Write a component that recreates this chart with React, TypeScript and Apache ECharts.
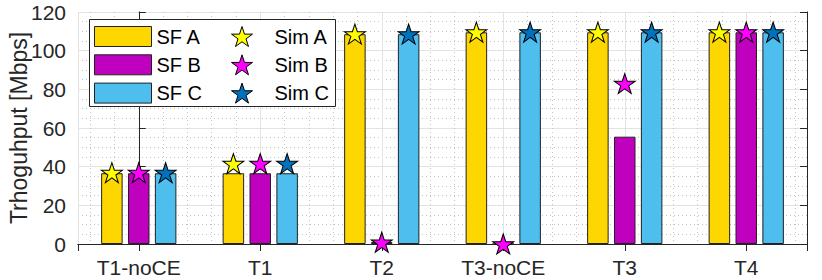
import React, { useEffect, useRef } from "react";
import * as echarts from "echarts";

const categories = ["T1-noCE", "T1", "T2", "T3-noCE", "T3", "T4"];
const sfA = [36.6, 36.6, 108.5, 109.5, 109.5, 109.5];
const sfB = [36.6, 36.6, 1.0, 0, 55.5, 109.5];
const sfC = [36.6, 36.6, 108.5, 109.5, 109.5, 109.5];
const simA = [36.9, 41.6, 108.6, 109.6, 109.6, 109.6];
const simB = [36.9, 41.6, 0.9, 0, 83.0, 109.6];
const simC = [36.9, 41.6, 108.6, 109.6, 109.6, 109.6];
const yTicks = [0, 20, 40, 60, 80, 100, 120];

const STAR =
  "path://M50 0 L61.23 34.55 L97.55 34.55 L68.17 55.9 L79.39 90.45 L50 69.1 L20.61 90.45 L31.83 55.9 L2.45 34.55 L38.77 34.55 Z";

const FONT = "Liberation Sans";
const TXT = "#262626";
const BAR_W = 21.5;
const BAR_GAP = 0.25;
const OFF = BAR_W * (1 + BAR_GAP);

export default function App() {
  const ref = useRef<HTMLDivElement>(null);
  useEffect(() => {
    if (!ref.current) return;
    const chart = echarts.init(ref.current, undefined, { renderer: "svg" });
    const barSeries = (name: string, data: number[], color: string) => ({
      name,
      type: "bar",
      data,
      xAxisIndex: 0,
      yAxisIndex: 0,
      barWidth: BAR_W,
      barGap: BAR_GAP * 100 + "%",
      itemStyle: { color, borderColor: "#222", borderWidth: 1 },
      z: 2,
    });
    const simSeries = (name: string, data: number[], color: string, off: number) => ({
      name,
      type: "scatter",
      data,
      xAxisIndex: 0,
      yAxisIndex: 0,
      symbol: STAR,
      symbolSize: [21, 20],
      symbolOffset: [off, 0],
      clip: false,
      itemStyle: { color, borderColor: "#000", borderWidth: 1, opacity: 1 },
      z: 5,
    });
    chart.setOption({
      animation: false,
      backgroundColor: "#fff",
      textStyle: { fontFamily: FONT },
      grid: {
        left: 78,
        right: 15,
        top: 12,
        bottom: 36,
        containLabel: false,
        outerBoundsMode: "none",
      },
      xAxis: [
        {
          type: "category",
          data: categories,
          position: "bottom",
          axisLine: { show: true, lineStyle: { color: TXT, width: 1 } },
          axisTick: { show: true, inside: true, alignWithLabel: true, length: 7, lineStyle: { color: TXT } },
          axisLabel: { color: TXT, fontSize: 21, fontFamily: FONT, margin: 13 },
          splitLine: { show: false },
        },
        {
          type: "value",
          position: "top",
          min: -0.5,
          max: 5.5,
          splitNumber: 6,
          axisLine: { show: true, lineStyle: { color: TXT, width: 1 } },
          axisTick: { show: true, inside: true, length: 7, lineStyle: { color: TXT } },
          axisLabel: { show: false },
          splitLine: { show: true, lineStyle: { color: "#e3e3e3", width: 1 } },
          minorTick: { show: false, splitNumber: 5 },
          minorSplitLine: { show: true, lineStyle: { color: "#c4c4c4", width: 1, type: [1, 3] } },
        },
      ],
      yAxis: [
        {
          type: "value",
          min: 0,
          max: 120,
          interval: 20,
          position: "left",
          name: "Trhoguhput [Mbps]",
          nameLocation: "middle",
          nameRotate: 90,
          nameGap: 48,
          nameMoveOverlap: false,
          nameTextStyle: { color: TXT, fontSize: 23, fontFamily: FONT },
          axisLine: { show: true, lineStyle: { color: TXT, width: 1 } },
          axisTick: { show: true, inside: true, length: 7, lineStyle: { color: TXT } },
          axisLabel: {
            color: TXT,
            fontSize: 21,
            fontFamily: FONT,
            margin: 12,
            formatter: (v: number) => (yTicks.includes(v) ? String(v) : ""),
          },
          splitLine: { show: true, lineStyle: { color: "#e3e3e3", width: 1 } },
          minorTick: { show: false, splitNumber: 4 },
          minorSplitLine: { show: true, lineStyle: { color: "#c4c4c4", width: 1, type: [1, 3] } },
        },
        {
          type: "value",
          min: 0,
          max: 120,
          interval: 20,
          position: "right",
          axisLine: { show: true, lineStyle: { color: TXT, width: 1 } },
          axisTick: { show: true, inside: true, length: 7, lineStyle: { color: TXT } },
          axisLabel: { show: false },
          splitLine: { show: false },
        },
      ],
      graphic: [
        {
          type: "rect",
          z: 3,
          shape: { x: 89.5, y: 19.5, width: 246, height: 87 },
          style: { fill: "#fff", stroke: TXT, lineWidth: 1 },
        },
      ],
      legend: [
        {
          orient: "vertical",
          left: 94,
          top: 26,
          itemWidth: 57,
          itemHeight: 20,
          itemGap: 7.3,
          icon: "rect",
          data: ["SF A", "SF B", "SF C"],
          itemStyle: { borderColor: "#222", borderWidth: 1 },
          textStyle: { fontSize: 20, color: "#000", fontFamily: FONT },
          padding: 0,
          z: 6,
        },
        {
          orient: "vertical",
          left: 231,
          top: 26,
          itemWidth: 55,
          itemHeight: 20,
          itemGap: 7.3,
          data: [
            { name: "Sim A", icon: STAR },
            { name: "Sim B", icon: STAR },
            { name: "Sim C", icon: STAR },
          ],
          itemStyle: { borderColor: "#000", borderWidth: 1 },
          textStyle: { fontSize: 20, color: "#000", fontFamily: FONT },
          padding: 0,
          z: 6,
        },
      ],
      series: [
        barSeries("SF A", sfA, "#FFD700"),
        barSeries("SF B", sfB, "#BF00BF"),
        barSeries("SF C", sfC, "#4DBEEE"),
        simSeries("Sim A", simA, "#FFFF00", -OFF),
        simSeries("Sim B", simB, "#FF00FF", 0),
        simSeries("Sim C", simC, "#0072BD", OFF),
      ],
    });
    return () => chart.dispose();
  }, []);
  return (
    <div
      ref={ref}
      style={{ position: "absolute", left: 0, top: 0, width: 822, height: 280 }}
    />
  );
}
